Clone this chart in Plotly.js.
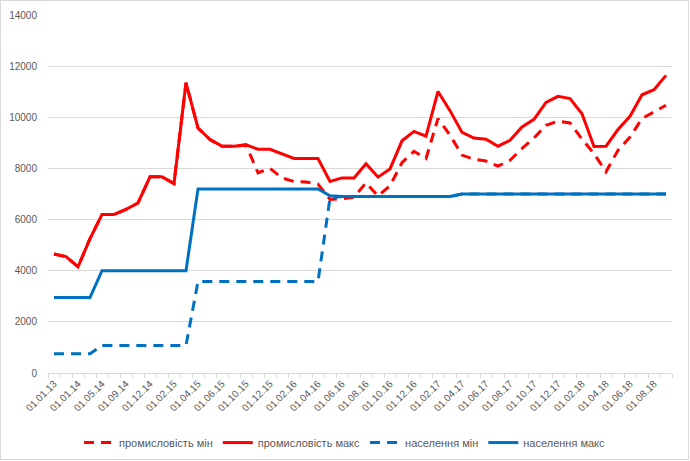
<!DOCTYPE html>
<html>
<head>
<meta charset="utf-8">
<script src="https://cdn.plot.ly/plotly-3.0.1.min.js"></script>
<style>
  html, body { margin: 0; padding: 0; background: #ffffff; }
  #chart { width: 690px; height: 461px; position: absolute; left: 0; top: 0; }
  #frame { position: absolute; left: 0; top: 0; width: 687px; height: 458px; border: 1px solid #d9d9d9; pointer-events: none; }
</style>
</head>
<body>
<div id="chart"></div>
<div id="frame"></div>
<script>
const categories = [
  "01.01.13","01.07.13","01.01.14","01.03.14","01.05.14","01.07.14","01.09.14","01.10.14",
  "01.12.14","01.01.15","01.02.15","01.03.15","01.04.15","01.05.15","01.06.15","01.08.15",
  "01.10.15","01.11.15","01.12.15","01.01.16","01.02.16","01.03.16","01.04.16","01.05.16",
  "01.06.16","01.07.16","01.08.16","01.09.16","01.10.16","01.11.16","01.12.16","01.01.17",
  "01.02.17","01.03.17","01.04.17","01.05.17","01.06.17","01.07.17","01.08.17","01.09.17",
  "01.10.17","01.11.17","01.12.17","01.01.18","01.02.18","01.03.18","01.04.18","01.05.18",
  "01.06.18","01.07.18","01.08.18","01.09.18"
];

const promMin = [
  4650,4550,4150,5250,6200,6200,6400,6650,7670,7670,7410,11350,9580,9130,8870,8870,8920,
  7830,8000,7630,7490,7470,7390,6790,6810,6870,7440,6920,7320,8230,8670,8390,9950,9300,
  8520,8360,8290,8090,8320,8780,9190,9690,9850,9780,9150,8580,7870,8710,9230,9950,10210,10470
];

const promMax = [
  4650,4550,4150,5250,6200,6200,6400,6650,7670,7670,7410,11350,9580,9130,8870,8870,8920,
  8750,8750,8570,8390,8390,8390,7490,7630,7630,8180,7660,7980,9080,9450,9260,11010,10260,
  9410,9190,9140,8870,9100,9620,9920,10580,10820,10730,10140,8860,8870,9520,10040,10880,11080,11640
];

const naselMin = [
  750,750,750,750,1080,1080,1080,1080,1080,1080,1080,1080,3580,3580,3580,3580,3580,3580,
  3580,3580,3580,3580,3580,6850,6900,6900,6900,6900,6900,6900,6900,6900,6900,6900,7000,7000,
  7000,7000,7000,7000,7000,7000,7000,7000,7000,7000,7000,7000,7000,7000,7000,7000
];

const naselMax = [
  2950,2950,2950,2950,4000,4000,4000,4000,4000,4000,4000,4000,7200,7200,7200,7200,7200,7200,
  7200,7200,7200,7200,7200,6930,6900,6900,6900,6900,6900,6900,6900,6900,6900,6900,7000,7000,
  7000,7000,7000,7000,7000,7000,7000,7000,7000,7000,7000,7000,7000,7000,7000,7000
];

const seriesNames = ["промисловість мін", "промисловість макс", "населення мін", "населення макс"];

// every other category is labelled
const tickText = categories.map((c, i) => (i % 2 === 0 ? c : ""));

const RED = "#ff0000";
const BLUE = "#0070c0";
const DASH = "10px,7px";

const traces = [
  { x: categories, y: promMin, name: seriesNames[0], type: "scatter", mode: "lines",
    line: { color: RED, width: 3, dash: DASH } },
  { x: categories, y: promMax, name: seriesNames[1], type: "scatter", mode: "lines",
    line: { color: RED, width: 3 } },
  { x: categories, y: naselMin, name: seriesNames[2], type: "scatter", mode: "lines",
    line: { color: BLUE, width: 3, dash: DASH } },
  { x: categories, y: naselMax, name: seriesNames[3], type: "scatter", mode: "lines",
    line: { color: BLUE, width: 3 } }
];

const layout = {
  width: 690,
  height: 461,
  margin: { l: 48, r: 18, t: 15, b: 88, pad: 0, autoexpand: false },
  paper_bgcolor: "#ffffff",
  plot_bgcolor: "#ffffff",
  font: { family: "Liberation Sans, Arial, sans-serif", size: 10, color: "#595959" },
  showlegend: true,
  legend: {
    orientation: "h",
    xref: "container", yref: "container",
    x: 0.5, xanchor: "center",
    y: 0.04, yanchor: "middle",
    font: { size: 11, color: "#595959" },
    itemwidth: 30,
    traceorder: "normal"
  },
  xaxis: {
    type: "category",
    categoryorder: "array",
    categoryarray: categories,
    range: [-0.5, categories.length - 0.5],
    tickmode: "array",
    tickvals: categories,
    ticktext: tickText,
    tickangle: -45,
    tickson: "boundaries",
    ticks: "outside",
    ticklen: 4,
    tickcolor: "#d9d9d9",
    showline: true,
    linecolor: "#d9d9d9",
    linewidth: 1,
    showgrid: false,
    zeroline: false,
    automargin: false,
    tickfont: { size: 10, color: "#595959" },
    fixedrange: true
  },
  yaxis: {
    range: [0, 14000],
    tickmode: "linear",
    tick0: 0,
    dtick: 2000,
    tickformat: "d",
    showgrid: true,
    gridcolor: "#d9d9d9",
    gridwidth: 1,
    zeroline: false,
    showline: false,
    ticks: "",
    automargin: false,
    tickfont: { size: 10, color: "#595959" },
    ticklabelstandoff: 10,
    fixedrange: true
  }
};

Plotly.newPlot("chart", traces, layout, { displayModeBar: false, staticPlot: true });
</script>
</body>
</html>
